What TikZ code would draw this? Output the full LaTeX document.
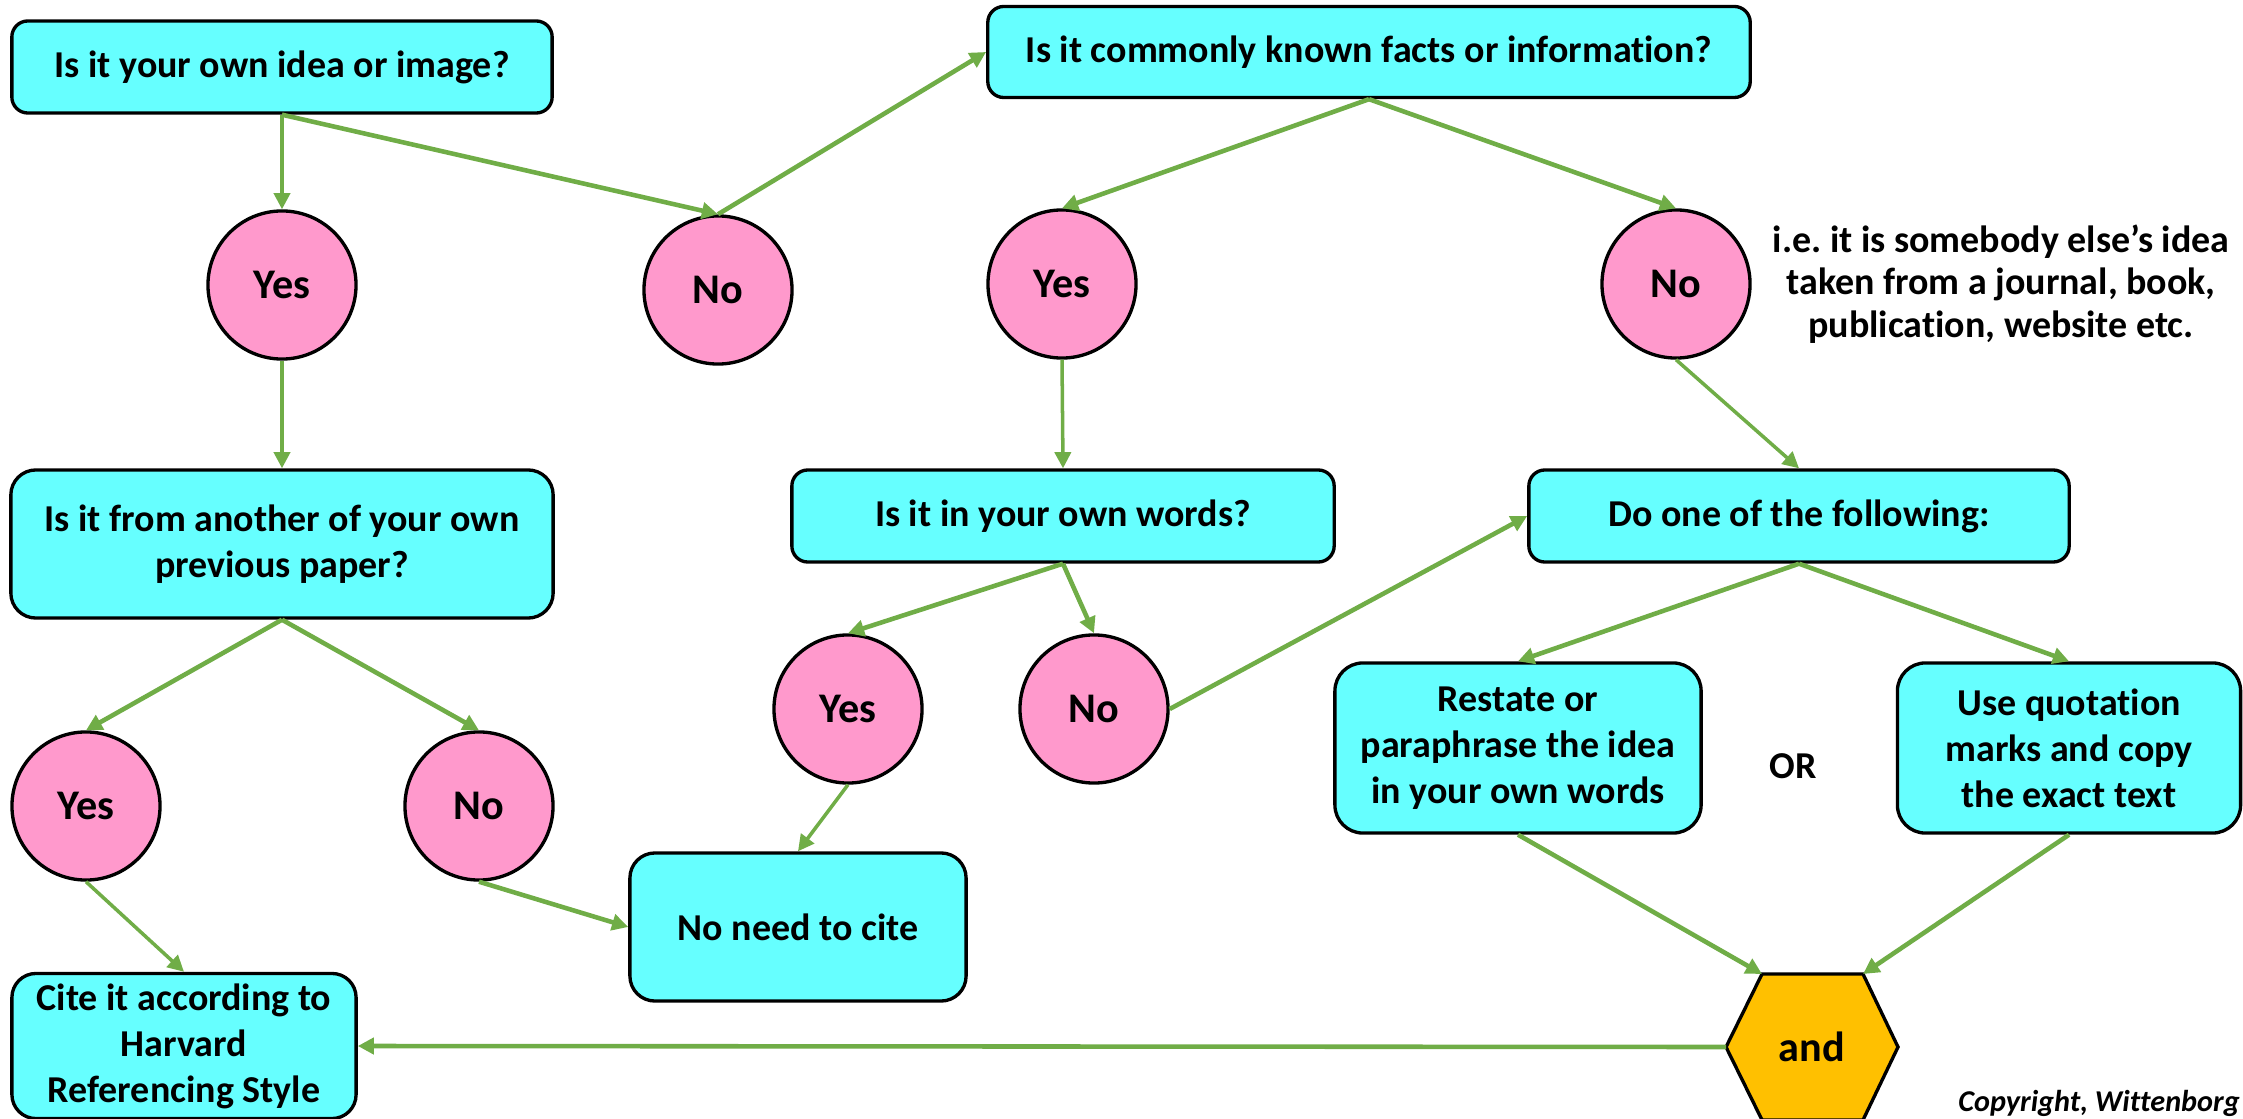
\documentclass[tikz,border=0pt]{standalone}
\usepackage{fontspec}
\setmainfont{Carlito}[Ligatures={TeX,NoCommon}]
\frenchspacing
\usetikzlibrary{arrows.meta, positioning}
\definecolor{boxcyan}{HTML}{66FFFF}
\definecolor{answerpink}{HTML}{FF99CC}
\definecolor{linkgreen}{HTML}{70AD47}
\definecolor{andorange}{HTML}{FFC000}

\begin{document}
\begin{tikzpicture}[x=0.01cm, y=-0.01cm,
  question/.style={draw=black, line width=0.95pt, fill=boxcyan, rounded corners=0.16cm,
    align=center, inner sep=0pt, font=\fontsize{10.8}{13.1}\selectfont\bfseries},
  answer/.style={circle, draw=black, line width=0.95pt, fill=answerpink, minimum size=1.48cm,
    inner sep=0pt, font=\fontsize{12}{14}\selectfont\bfseries},
  link/.style={draw=linkgreen, line width=1.3pt, -{Triangle[length=4.6pt, width=4.6pt]}},
  thinlink/.style={link, line width=1pt}]
  \useasboundingbox (0,0) rectangle (2243,1119);

  % questions
  \node[question, minimum width=5.40cm, minimum height=0.92cm] (idea) at (282,67) {Is it your own idea or image?};
  \node[question, minimum width=7.62cm, minimum height=0.91cm] (known) at (1369,52) {Is it commonly known facts or information?};
  \node[question, minimum width=5.42cm, minimum height=1.48cm, rounded corners=0.25cm] (previous) at (282,544)
    {Is it from another of your own\\previous paper?};
  \node[question, minimum width=5.42cm, minimum height=0.92cm] (ownwords) at (1063,516) {Is it in your own words?};
  \node[question, minimum width=5.40cm, minimum height=0.92cm] (doone) at (1799,516) {Do one of the following:};
  \node[question, minimum width=3.36cm, minimum height=1.48cm, rounded corners=0.25cm] (nocite) at (798,927) {No need to cite};
  \node[question, minimum width=3.66cm, minimum height=1.70cm, rounded corners=0.28cm] (restate) at (1518,748)
    {Restate or\\paraphrase the idea\\in your own words};
  \node[question, minimum width=3.43cm, minimum height=1.70cm, rounded corners=0.28cm] (quote) at (2069,748)
    {Use quotation\\marks and copy\\the exact text};
  \node[question, minimum width=3.44cm, minimum height=1.45cm, rounded corners=0.24cm] (harvard) at (184,1046)
    {Cite it according to\\Harvard\\Referencing Style};

  % answers
  \node[answer] (yes1) at (282,285) {Yes};
  \node[answer] (no1) at (718,290) {No};
  \node[answer] (yes2) at (1062,284) {Yes};
  \node[answer] (no2) at (1676,284) {No};
  \node[answer] (yes3) at (848,709) {Yes};
  \node[answer] (no3) at (1094,709) {No};
  \node[answer] (yes4) at (86,806) {Yes};
  \node[answer] (no4) at (479,806) {No};

  \node[align=center, font=\fontsize{10.8}{12}\selectfont\bfseries] (note) at (2001,284)
    {i.e. it is somebody else’s idea\\taken from a journal, book,\\publication, website etc.};
  \node[font=\fontsize{10.8}{12}\selectfont\bfseries] (or) at (1793,766) {OR};

  % and hexagon
  \fill[andorange, draw=black, line width=0.95pt] (1726,1047) -- (1762,974) -- (1863,974)
    -- (1898,1047) -- (1863,1120) -- (1762,1120) -- cycle;
  \coordinate (hexW) at (1726,1047);
  \coordinate (hexNW) at (1762,974);
  \coordinate (hexNE) at (1863,974);
  \node[font=\fontsize{12}{14}\selectfont\bfseries] (andhex) at (1812,1047) {and};

  \node[anchor=base west, font=\fontsize{8.6}{10}\selectfont\bfseries\itshape] (copy) at (1946,1111)
    {Copyright, Wittenborg};

  % links
  \draw[thinlink] (idea.south) -- (yes1.north);
  \draw[link] (idea.south) -- (no1.north);
  \draw[link] (no1.north) -- (known.west);
  \draw[link] (known.south) -- (yes2.north);
  \draw[link] (known.south) -- (no2.north);
  \draw[thinlink] (yes1.south) -- (previous.north);
  \draw[thinlink] (yes2.south) -- (ownwords.north);
  \draw[thinlink] (no2.south) -- (doone.north);
  \draw[link] (previous.south) -- (yes4.north);
  \draw[link] (previous.south) -- (no4.north);
  \draw[thinlink] (yes4.south) -- (harvard.north);
  \draw[link] (no4.south) -- (nocite.west);
  \draw[link] (ownwords.south) -- (yes3.north);
  \draw[link] (ownwords.south) -- (no3.north);
  \draw[thinlink] (yes3.south) -- (nocite.north);
  \draw[link] (no3.east) -- (doone.west);
  \draw[link] (doone.south) -- (restate.north);
  \draw[link] (doone.south) -- (quote.north);
  \draw[link] (restate.south) -- (hexNW);
  \draw[link] (quote.south) -- (hexNE);
  \draw[link] (hexW) -- (harvard.east);
\end{tikzpicture}
\end{document}
